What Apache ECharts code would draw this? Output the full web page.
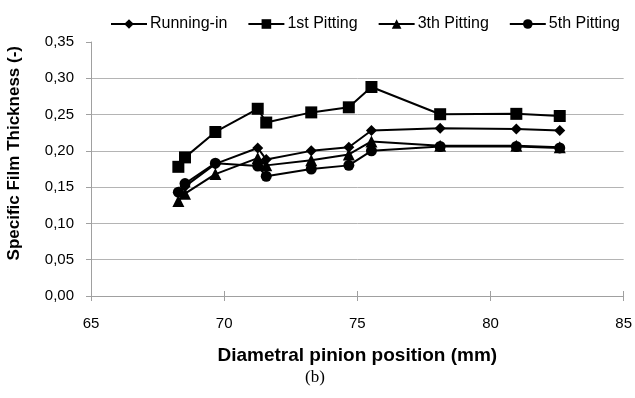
<!DOCTYPE html>
<html>
<head>
<meta charset="utf-8">
<script src="https://cdn.jsdelivr.net/npm/echarts@6/dist/echarts.min.js"></script>
<style>
html,body{margin:0;padding:0;background:#fff;}
#c{width:635px;height:398px;}
</style>
</head>
<body>
<div id="c"></div>
<script>
var positions = [68.28, 68.53, 69.67, 71.26, 71.58, 73.27, 74.68, 75.53, 78.11, 80.97, 82.6];
var runningIn = [0.143, 0.151, 0.182, 0.204, 0.188, 0.200, 0.205, 0.228, 0.231, 0.230, 0.228];
var pitting1 = [0.178, 0.191, 0.226, 0.258, 0.239, 0.253, 0.260, 0.288, 0.2505, 0.251, 0.248];
var pitting3 = [0.131, 0.141, 0.168, 0.190, 0.180, 0.187, 0.195, 0.213, 0.207, 0.207, 0.205];
var pitting5 = [0.143, 0.155, 0.183, 0.179, 0.165, 0.175, 0.180, 0.200, 0.206, 0.206, 0.204];
var seriesNames = ['Running-in', '1st Pitting', '3th Pitting', '5th Pitting'];
var xTicks = [65, 70, 75, 80, 85];
var yTicks = [0, 0.05, 0.10, 0.15, 0.20, 0.25, 0.30, 0.35];

function pairs(vals) {
  return positions.map(function (x, i) { return [x, vals[i]]; });
}

var chart = echarts.init(document.getElementById('c'));
var lineStyle = { color: '#000', width: 2 };
var itemStyle = { color: '#000' };
function mk(name, vals, symbol, size) {
  return {
    name: name, type: 'line', data: pairs(vals),
    symbol: symbol, symbolSize: size,
    lineStyle: lineStyle, itemStyle: itemStyle,
    animation: false
  };
}
var axisGray = '#a0a0a0';
chart.setOption({
  backgroundColor: '#fff',
  animation: false,
  textStyle: { fontFamily: 'Liberation Sans' },
  grid: { left: 91, right: 7, top: 42, bottom: 102, containLabel: false },
  legend: {
    top: 11, left: 105,
    itemWidth: 36, itemHeight: 12, itemGap: 20,
    textStyle: { fontFamily: 'Liberation Sans', fontSize: 16, color: '#000', padding: [0, 0, 0, -2] },
    data: seriesNames
  },
  xAxis: [{
    type: 'value', min: xTicks[0], max: xTicks[xTicks.length - 1], interval: 5,
    name: 'Diametral pinion position (mm)', nameLocation: 'middle', nameGap: 50,
    nameTextStyle: { fontFamily: 'Liberation Sans', fontWeight: 'bold', fontSize: 19, color: '#000' },
    axisLine: { lineStyle: { color: axisGray, width: 1 } },
    axisTick: { show: true, length: 5, lineStyle: { color: axisGray } },
    axisLabel: { fontSize: 15, color: '#000', margin: 20 },
    splitLine: { show: false }
  }, {
    type: 'value', min: xTicks[0], max: xTicks[xTicks.length - 1], interval: 5,
    position: 'bottom',
    axisLine: { show: false },
    axisTick: { show: true, inside: true, length: 5, lineStyle: { color: axisGray } },
    axisLabel: { show: false },
    splitLine: { show: false }
  }],
  yAxis: {
    type: 'value', min: yTicks[0], max: yTicks[yTicks.length - 1], interval: 0.05,
    axisLine: { show: true, lineStyle: { color: axisGray, width: 1 } },
    axisTick: { show: true, length: 5, lineStyle: { color: axisGray } },
    axisLabel: { fontSize: 15, color: '#000', margin: 17,
      formatter: function (v) { return v.toFixed(2).replace('.', ','); } },
    splitLine: { show: true, showMaxLine: false, lineStyle: { color: '#b4b4b4', width: 1 } }
  },
  graphic: [{
    type: 'text', left: 6, top: 46, rotation: Math.PI / 2,
    style: { text: 'Specific Film Thickness (-)', font: 'bold 17px "Liberation Sans"', fill: '#000' }
  }, {
    type: 'text', left: 305, top: 369,
    style: { text: '(b)', font: '17px "Liberation Serif"', fill: '#000' }
  }],
  series: [
    mk(seriesNames[0], runningIn, 'diamond', 11),
    mk(seriesNames[1], pitting1, 'rect', 12),
    mk(seriesNames[2], pitting3, 'triangle', 12),
    mk(seriesNames[3], pitting5, 'circle', 11)
  ]
});
</script>
</body>
</html>
